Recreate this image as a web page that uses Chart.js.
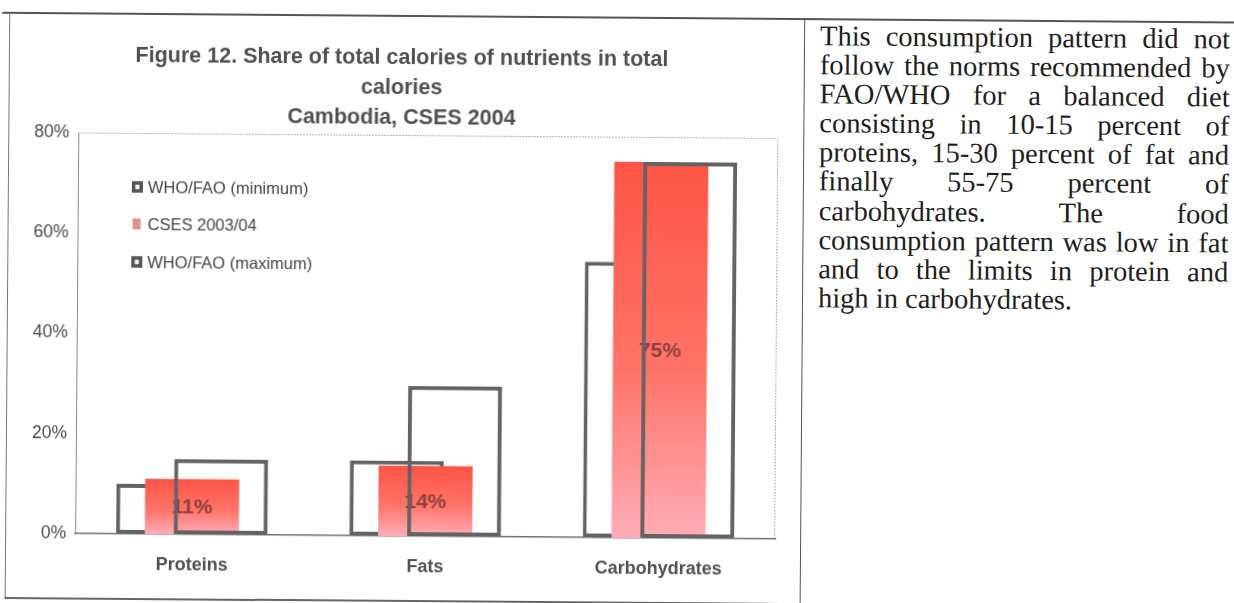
<!DOCTYPE html>
<html>
<head>
<meta charset="utf-8">
<title>Share of total calories of nutrients in total calories</title>
<script src="https://cdn.jsdelivr.net/npm/chart.js@4.4.1/dist/chart.umd.min.js"></script>
<style>
  html, body { margin: 0; padding: 0; background: #fff; width: 1234px; height: 603px; overflow: hidden; }
  #page { position: absolute; left: 0; top: 0; width: 1234px; height: 603px;
          transform: rotate(0.45deg); transform-origin: 400px 300px; }
  .rule { position: absolute; }
  #chartBox { position: absolute; left: 0; top: 16px; width: 806px; height: 585px; }
  #note { position: absolute; left: 818px; top: 18px; width: 410px;
          font-family: "Liberation Serif", "Times New Roman", serif; font-size: 28.5px;
          line-height: 29.1px; color: #1e1e1e; }
  #note div { text-align: justify; text-align-last: justify; white-space: nowrap; }
  #note div.last { text-align-last: left; }
</style>
</head>
<body>
<div id="page">
  <div class="rule" style="left:0;top:15px;width:1234px;height:1.5px;background:#555;"></div>
  <div class="rule" style="left:7px;top:16px;width:1px;height:585px;background:#777;"></div>
  <div class="rule" style="left:7px;top:600px;width:795px;height:2px;background:#666;"></div>
  <div class="rule" style="left:801.5px;top:16px;width:1.5px;height:587px;background:#555;"></div>

  <div id="chartBox"><canvas id="chart" width="806" height="585"></canvas></div>

  <div id="note">
    <div>This consumption pattern did not</div>
    <div>follow the norms recommended by</div>
    <div>FAO/WHO for a balanced diet</div>
    <div>consisting in 10-15 percent of</div>
    <div>proteins, 15-30 percent of fat and</div>
    <div>finally 55-75 percent of</div>
    <div>carbohydrates. The food</div>
    <div>consumption pattern was low in fat</div>
    <div>and to the limits in protein and</div>
    <div class="last">high in carbohydrates.</div>
  </div>
</div>

<script>
// Nutrient groups and shares of total calories (%)
const categories = ['Proteins', 'Fats', 'Carbohydrates'];
const whoFaoMin = [10, 15, 55];
const csesShare = [11, 14, 75];
const whoFaoMax = [15, 30, 75];
const seriesNames = ['WHO/FAO (minimum)', 'CSES 2003/04', 'WHO/FAO (maximum)'];
const yTickValues = [0, 20, 40, 60, 80];
const titleLines = [
  'Figure 12. Share of total calories of nutrients in total',
  'calories',
  'Cambodia, CSES 2004'
];

const SANS = '"Liberation Sans", Arial, sans-serif';
const OUTLINE = '#636363';

// Vertical red-to-pink fill for each CSES bar, spanning the bar itself
function redFill(c) {
  const chart = c.chart;
  const y = chart.scales && chart.scales.y;
  if (c.type !== 'data' || !y || !c.parsed) return '#ff7a70';
  const top = y.getPixelForValue(c.parsed.y);
  const base = y.getPixelForValue(0);
  if (!isFinite(top) || !isFinite(base) || top === base) return '#ff7a70';
  const g = chart.ctx.createLinearGradient(0, top, 0, base);
  g.addColorStop(0, '#ff5446');
  g.addColorStop(0.55, '#ff7367');
  g.addColorStop(1, '#ffacb6');
  return g;
}

// Draws the bars back to front (minimum, CSES, value labels, maximum)
// so the open maximum outline sits above the CSES bar.
const layeredBars = {
  id: 'layeredBars',
  beforeDatasetsDraw(chart) {
    const ctx = chart.ctx;
    const area = chart.chartArea;
    // dotted frame along the top and right of the plot area
    ctx.save();
    ctx.strokeStyle = '#9a9a9a';
    ctx.lineWidth = 1;
    ctx.setLineDash([1.5, 1.5]);
    ctx.beginPath();
    ctx.moveTo(area.left, area.top + 0.5);
    ctx.lineTo(area.right - 0.5, area.top + 0.5);
    ctx.lineTo(area.right - 0.5, area.bottom);
    ctx.stroke();
    ctx.restore();

    const metas = chart.getSortedVisibleDatasetMetas().slice().sort((a, b) => a.index - b.index);
    metas.forEach(meta => {
      meta.controller.draw();
      if (meta.index === 1) drawValueLabels(chart, meta);
    });
    return false;
  },
  afterDraw(chart) {
    drawLegendBox(chart);
  }
};

function drawValueLabels(chart, meta) {
  const ctx = chart.ctx;
  const values = chart.data.datasets[meta.index].data;
  ctx.save();
  ctx.font = 'bold 21px ' + SANS;
  ctx.fillStyle = 'rgba(130, 60, 60, 0.92)';
  ctx.textAlign = 'center';
  ctx.textBaseline = 'middle';
  meta.data.forEach((bar, i) => {
    const p = bar.getProps(['x', 'y', 'base'], true);
    ctx.fillText(values[i] + '%', p.x, (p.y + p.base) / 2 + 1);
  });
  ctx.restore();
}

function drawLegendBox(chart) {
  const ctx = chart.ctx;
  const area = chart.chartArea;
  const x0 = area.left + 54;
  ctx.save();
  chart.data.datasets.forEach((ds, i) => {
    const cy = area.top + 54 + i * 37.5;
    if (i === 1) {
      ctx.fillStyle = '#e3938d';
      ctx.fillRect(x0 + 1, cy - 6, 8, 11);
    } else {
      ctx.fillStyle = '#ffffff';
      ctx.fillRect(x0, cy - 5.5, 11, 11);
      ctx.strokeStyle = '#555555';
      ctx.lineWidth = 3.5;
      ctx.strokeRect(x0 + 1.75, cy - 4, 7.5, 8);
    }
    ctx.font = '16.5px ' + SANS;
    ctx.fillStyle = '#444444';
    ctx.textAlign = 'left';
    ctx.textBaseline = 'middle';
    ctx.fillText(ds.label, x0 + 16, cy + 1);
  });
  ctx.restore();
}

new Chart(document.getElementById('chart'), {
  type: 'bar',
  data: {
    labels: categories,
    datasets: [
      { label: seriesNames[0], data: whoFaoMin, backgroundColor: '#ffffff',
        borderColor: OUTLINE, borderWidth: 4, borderSkipped: false },
      { label: seriesNames[1], data: csesShare, backgroundColor: redFill,
        borderWidth: 0 },
      { label: seriesNames[2], data: whoFaoMax, backgroundColor: 'rgba(0,0,0,0)',
        borderColor: OUTLINE, borderWidth: 4, borderSkipped: false }
    ]
  },
  options: {
    responsive: false,
    animation: false,
    devicePixelRatio: 1,
    categoryPercentage: 0.3703,
    barPercentage: 3.264,
    layout: { padding: { left: 23, right: 29, top: 0, bottom: 0 } },
    plugins: {
      legend: { display: false },
      tooltip: { enabled: false },
      title: {
        display: true,
        text: titleLines,
        color: '#505050',
        font: { family: SANS, size: 21.5, weight: 'bold', lineHeight: '30px' },
        padding: { top: 27, bottom: 2 }
      }
    },
    scales: {
      x: {
        grid: { display: false },
        border: { display: true, color: '#707070', width: 1.5 },
        ticks: { color: '#505050', padding: 12,
                 font: { family: SANS, size: 18, weight: 'bold' } },
        afterFit(scale) { scale.height = 65; }
      },
      y: {
        min: yTickValues[0],
        max: yTickValues[yTickValues.length - 1],
        grid: { display: false, drawTicks: false },
        border: { display: true, color: '#8a8a8a', width: 1 },
        afterBuildTicks(scale) { scale.ticks = yTickValues.map(v => ({ value: v })); },
        ticks: { color: '#4a4a4a', padding: 9,
                 font: { family: SANS, size: 17.5 },
                 callback: v => v + '%' },
        afterFit(scale) { scale.width = 54; }
      }
    }
  },
  plugins: [layeredBars]
});
</script>
</body>
</html>
